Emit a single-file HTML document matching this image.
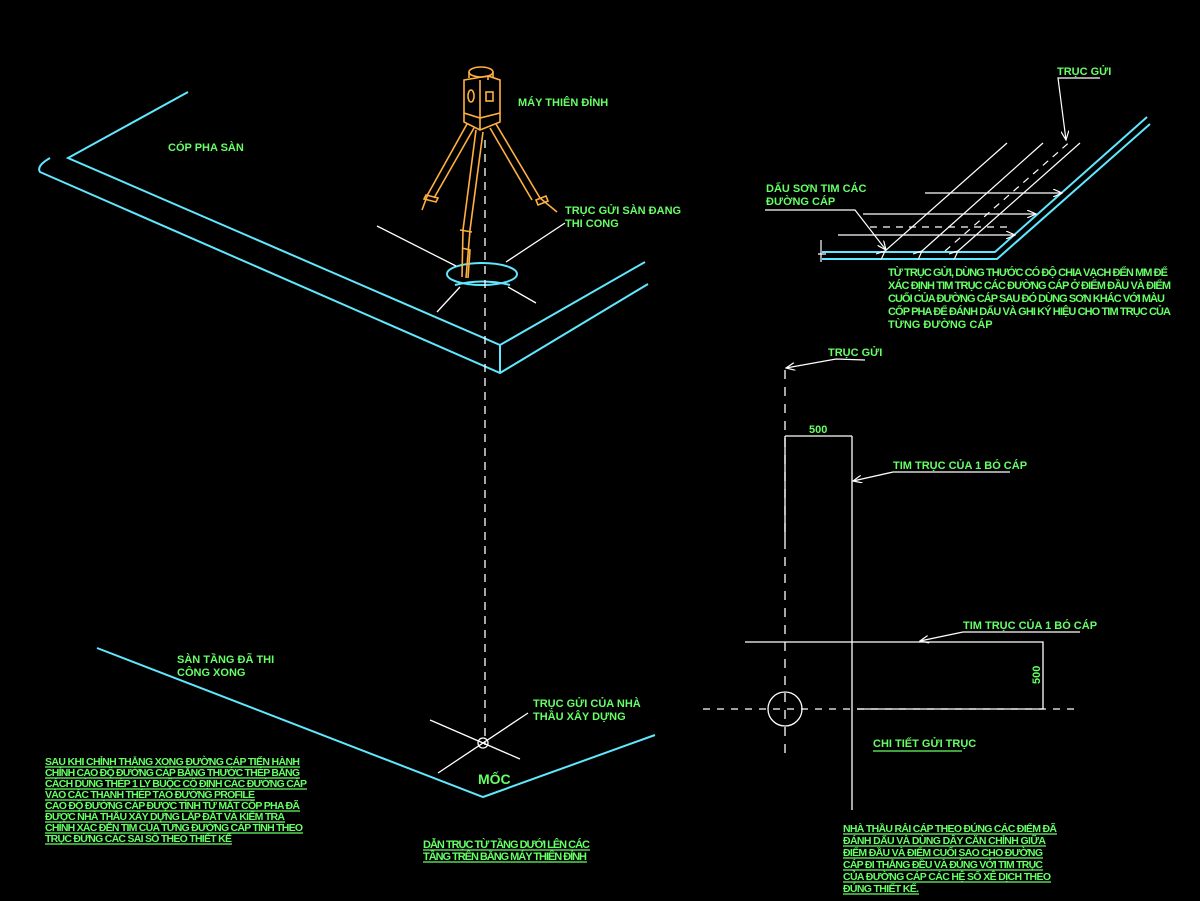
<!DOCTYPE html>
<html><head><meta charset="utf-8"><style>
html,body{margin:0;padding:0;background:#000;}
svg{display:block}
text{font-family:"Liberation Sans Narrow","Liberation Sans",sans-serif;font-weight:bold;fill:#6f6;}
.u{stroke:#6f6;stroke-width:1.3}
</style></head><body>
<svg width="1200" height="901" viewBox="0 0 1200 901" xmlns="http://www.w3.org/2000/svg">
<rect width="1200" height="901" fill="#000"/>
<defs><marker id="a" markerWidth="10" markerHeight="8" refX="9" refY="4" orient="auto" markerUnits="userSpaceOnUse"><path d="M0,0 L9,4 L0,8" fill="none" stroke="#fff" stroke-width="1.2"/></marker></defs>
<!-- upper slab -->
<g stroke="#5fe8ff" stroke-width="2" fill="none">
<path d="M188,92 L68,158 L500,345 L645,262"/>
<path d="M50,158 Q36,166 40,172 L500,373 L648,284"/>
<path d="M500,345 L500,373"/>
<ellipse cx="482" cy="274" rx="35" ry="11"/>
<path d="M455,285 Q482,278 510,285"/>
</g>
<g stroke="#fff" stroke-width="1.3" fill="none">
<path d="M377,226 L456,266"/><path d="M508,287 L536,303"/>
<path d="M437,312 L460,287"/><path d="M506,262 L565,223"/>
<path d="M485,140 L485,745" stroke-dasharray="8,6"/>
</g>
<!-- tripod -->
<g stroke="#ffb040" stroke-width="1.6" fill="none">
<ellipse cx="481" cy="72" rx="12" ry="5"/>
<path d="M469,72 L469,78 M493,72 L493,78"/>
<path d="M464,80 L488,76 L500,80 L500,113 L480,118 L464,113 Z"/>
<path d="M480,80 L480,118 M488,76 L488,80"/>
<ellipse cx="471" cy="96" rx="3" ry="6"/>
<rect x="486" y="92" width="7" height="9"/>
<path d="M464,113 L464,122 L480,130 L500,122 L500,113 M480,118 L480,130"/>
<path d="M467,124 L428,194 L422,210 M474,128 L434,198"/>
<path d="M426,195 L438,198 L436,202 L424,199 Z"/>
<path d="M476,130 L463,230 L462,277 M483,132 L470,230 L466,278"/>
<path d="M460,230 L472,232 M462,248 L470,250 L468,278"/>
<path d="M496,124 L540,198 L557,212 M490,128 L532,200"/>
<path d="M536,200 L546,196 L548,201 L538,205 Z"/>
</g>
<!-- lower slab -->
<g stroke="#5fe8ff" stroke-width="2" fill="none"><path d="M97,648 L483,797 L655,735"/></g>
<g stroke="#fff" stroke-width="1.3" fill="none">
<circle cx="483" cy="743" r="5"/>
<path d="M430,720 L520,759 M438,773 L528,713"/>
</g>
<!-- top right detail -->
<g stroke="#5fe8ff" stroke-width="2" fill="none">
<path d="M822,252 L995,252 L1147,117"/>
<path d="M822,259 L997,259 L1150,124"/>
</g>
<g stroke="#fff" stroke-width="1.2" fill="none">
<path d="M821,240 L821,262 M818,254 L826,254"/>
<path d="M885,251 L1007,143" marker-start="url(#a)"/>
<path d="M922,251 L1043,143" marker-start="url(#a)"/>
<path d="M945,251 L1072,140" stroke-dasharray="7,6"/>
<path d="M958,251 L1080,143" marker-start="url(#a)"/>
<path d="M925,193 L1062,193" marker-end="url(#a)"/>
<path d="M863,214 L1036,214" marker-end="url(#a)"/>
<path d="M838,235 L1015,235" marker-end="url(#a)"/>
<path d="M870,227 L1010,227" stroke-dasharray="7,6"/>
<path d="M765,210 L855,210 L886,250" marker-end="url(#a)"/>
<path d="M1100,78 L1058,78 L1066,140" marker-end="url(#a)"/>
</g>
<!-- lower right detail -->
<g stroke="#fff" stroke-width="1.3" fill="none">
<path d="M785,370 L785,760" stroke-dasharray="9,8"/>
<path d="M785,436 L785,540"/>
<path d="M865,360 L836,359 L786,368" marker-end="url(#a)"/>
<path d="M785,436 L852,436 M852,436 L852,810"/>
<path d="M1010,472 L893,472 L853,481" marker-end="url(#a)"/>
<path d="M745,642 L1043,642 L1043,709"/>
<path d="M1080,632 L963,632 L920,641" marker-end="url(#a)"/>
<path d="M703,709 L1075,709" stroke-dasharray="7,7"/>
<path d="M857,709 L1043,709"/>
<circle cx="785" cy="709" r="17"/>
</g>
<!-- labels -->
<text x="518" y="106" font-size="11">MÁY THIÊN ĐỈNH</text>
<text x="168" y="151" font-size="11">CÓP PHA SÀN</text>
<text x="565" y="214" font-size="11">TRỤC GỬI SÀN ĐANG</text>
<text x="565" y="227" font-size="11">THI CONG</text>
<text x="1057" y="75" font-size="11">TRỤC GỬI</text>
<text x="766" y="192" font-size="11">DẤU SƠN TIM CÁC</text>
<text x="766" y="205" font-size="11">ĐƯỜNG CÁP</text>
<g font-size="11">
<text x="888" y="276" textLength="280">TỪ TRỤC GỬI, DÙNG THƯỚC CÓ ĐỘ CHIA VẠCH ĐẾN MM ĐỂ</text>
<text x="888" y="289" textLength="283">XÁC ĐỊNH TIM TRỤC CÁC ĐƯỜNG CÁP Ở ĐIỂM ĐẦU VÀ ĐIỂM</text>
<text x="888" y="302" textLength="277">CUỐI CỦA ĐƯỜNG CÁP SAU ĐÓ DÙNG SƠN KHÁC VỚI MÀU</text>
<text x="888" y="315" textLength="283">CỐP PHA ĐỂ ĐÁNH DẤU VÀ GHI KÝ HIỆU CHO TIM TRỤC CỦA</text>
<text x="888" y="328">TỪNG ĐƯỜNG CÁP</text>
</g>
<text x="828" y="356" font-size="11">TRỤC GỬI</text>
<text x="809" y="433" font-size="11">500</text>
<text x="893" y="469" font-size="11">TIM TRỤC CỦA 1 BÓ CÁP</text>
<text x="963" y="629" font-size="11">TIM TRỤC CỦA 1 BÓ CÁP</text>
<text x="0" y="0" font-size="11" transform="translate(1040,684) rotate(-90)">500</text>
<text x="873" y="747" font-size="11">CHI TIẾT GỬI TRỤC</text>
<line x1="873" y1="751" x2="962" y2="751" class="u"/>
<text x="177" y="663" font-size="11">SÀN TẦNG ĐÃ THI</text>
<text x="177" y="676" font-size="11">CÔNG XONG</text>
<text x="533" y="707" font-size="11">TRỤC GỬI CỦA NHÀ</text>
<text x="533" y="720" font-size="11">THẦU XÂY DỰNG</text>
<text x="478" y="784" font-size="14" font-weight="normal">MỐC</text>
<g font-size="11">
<text x="423" y="848" textLength="167">DẪN TRỤC TỪ TẦNG DƯỚI LÊN CÁC</text>
<line x1="423" y1="850" x2="590" y2="850" class="u"/>
<text x="423" y="860" textLength="164">TẦNG TRÊN BẰNG MÁY THIÊN ĐỈNH</text>
<line x1="423" y1="862" x2="587" y2="862" class="u"/>
</g>
<g font-size="10.5">
<text x="45" y="765" textLength="255">SAU KHI CHỈNH THẲNG XONG ĐƯỜNG CÁP  TIẾN HÀNH</text>
<text x="45" y="776" textLength="255">CHỈNH CAO ĐỘ ĐƯỜNG CÁP BẰNG THƯỚC THÉP BẰNG</text>
<text x="45" y="787" textLength="262">CÁCH DÙNG THÉP 1 LY BUỘC CỐ ĐỊNH CÁC ĐƯỜNG CÁP</text>
<text x="45" y="798" textLength="210">VÀO CÁC THANH THÉP TẠO ĐƯỜNG PROFILE</text>
<text x="45" y="809" textLength="255">CAO ĐỘ ĐƯỜNG CÁP ĐƯỢC TÍNH TỪ MẶT CỐP PHA ĐÃ</text>
<text x="45" y="820" textLength="240">ĐƯỢC NHÀ THẦU XÂY DỰNG LẮP ĐẶT VÀ KIỂM TRA</text>
<text x="45" y="831" textLength="258">CHÍNH XÁC ĐẾN TIM CỦA TỪNG ĐƯỜNG CÁP TÍNH THEO</text>
<text x="45" y="842" textLength="187">TRỤC ĐỨNG CÁC  SAI SỐ THEO THIẾT KẾ</text>
</g>
<g class="u">
<line x1="45" y1="767" x2="300" y2="767"/><line x1="45" y1="778" x2="300" y2="778"/>
<line x1="45" y1="789" x2="307" y2="789"/><line x1="45" y1="800" x2="255" y2="800"/>
<line x1="45" y1="811" x2="300" y2="811"/><line x1="45" y1="822" x2="285" y2="822"/>
<line x1="45" y1="833" x2="303" y2="833"/><line x1="45" y1="844" x2="232" y2="844"/>
</g>
<g font-size="10.5">
<text x="843" y="832" textLength="214">NHÀ THẦU RẢI CÁP THEO ĐÚNG CÁC ĐIỂM ĐÃ</text>
<text x="843" y="844" textLength="203">ĐÁNH DẤU VÀ DÙNG DÂY CĂN CHỈNH GIỮA</text>
<text x="843" y="856" textLength="200">ĐIỂM ĐẦU VÀ ĐIỂM CUỐI SAO CHO ĐƯỜNG</text>
<text x="843" y="868" textLength="200">CÁP ĐI THẲNG ĐỀU VÀ ĐÚNG VỚI TIM TRỤC</text>
<text x="843" y="880" textLength="208">CỦA ĐƯỜNG CÁP CÁC HỆ SỐ XÊ DỊCH THEO</text>
<text x="843" y="892" textLength="76">ĐÚNG THIẾT KẾ.</text>
</g>
<g class="u">
<line x1="843" y1="834" x2="1057" y2="834"/><line x1="843" y1="846" x2="1046" y2="846"/>
<line x1="843" y1="858" x2="1043" y2="858"/><line x1="843" y1="870" x2="1043" y2="870"/>
<line x1="843" y1="882" x2="1051" y2="882"/><line x1="843" y1="894" x2="919" y2="894"/>
</g>
</svg>
</body></html>
